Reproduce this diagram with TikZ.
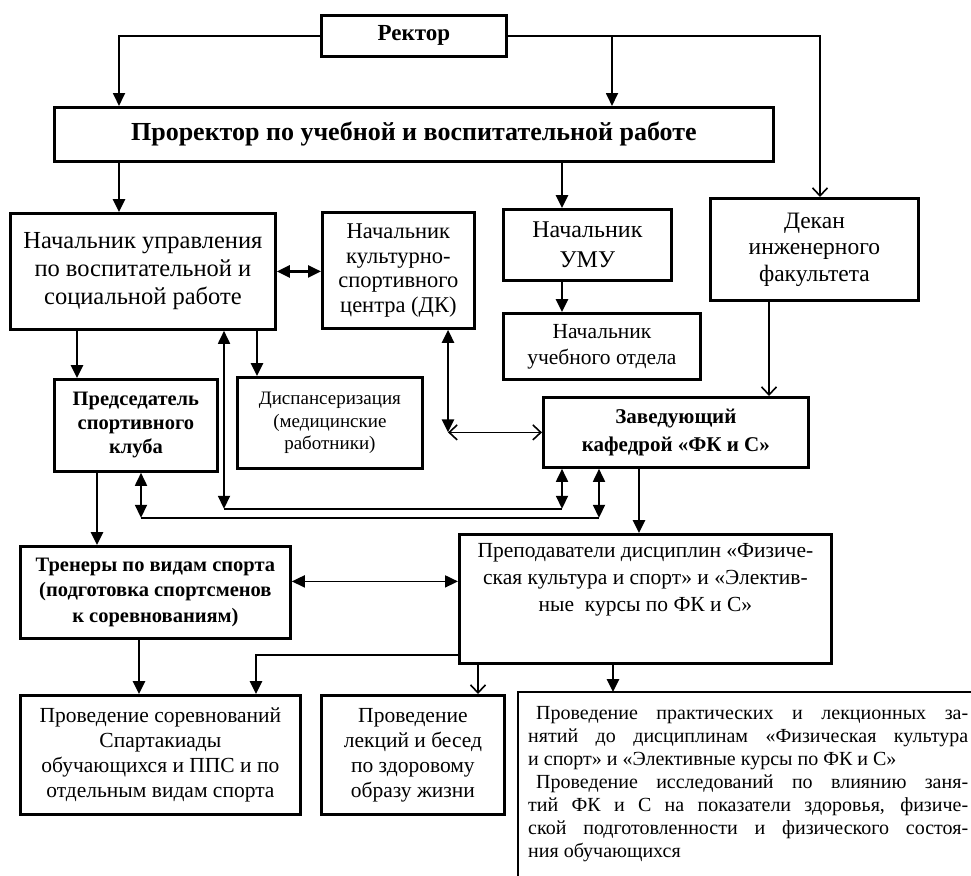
\documentclass[tikz,border=0pt]{standalone}
\usepackage{fontspec}
\setmainfont{Liberation Serif}
\usetikzlibrary{arrows.meta}
\newcommand\fsz[2]{\fontsize{#1}{#2}\selectfont}
\tikzset{
  box/.style={draw, line width=2.8pt, inner sep=0pt, anchor=north west, align=center},
  con/.style={line width=1.8pt},
  conT/.style={line width=2.6pt},
  fa/.style={-{Triangle[length=13pt,width=12pt]}},
  fab/.style={{Triangle[length=13pt,width=12pt]}-{Triangle[length=13pt,width=12pt]}},
  oa/.style={-{Straight Barb[length=8pt,width=15pt,line width=1.6pt]}},
  oab/.style={{Straight Barb[length=8pt,width=15pt,line width=1.6pt]}-{Straight Barb[length=8pt,width=15pt,line width=1.6pt]}},
}
\begin{document}
\begin{tikzpicture}[x=1pt,y=-1pt]
\useasboundingbox[fill=white] (0,0) rectangle (971,875);

% boxes
\node[box, minimum width=185pt, minimum height=41pt, font=\fsz{23}{26}\bfseries] (rector) at (320,14) {Ректор};
\node[box, minimum width=719pt, minimum height=54pt, font=\fsz{26}{30}\bfseries] (prorector) at (53,106) {Проректор по учебной и воспитательной работе};
\node[box, minimum width=265pt, minimum height=116pt, font=\fsz{24.5}{28}] (upr) at (9,212) {Начальник управления\\по воспитательной и\\социальной работе};
\node[box, minimum width=152pt, minimum height=116pt, font=\fsz{22.5}{24.5}] (dk) at (321,211) {Начальник\\культурно-\\спортивного\\центра (ДК)};
\node[box, minimum width=168pt, minimum height=71pt, font=\fsz{24}{30}] (umu) at (502,208) {Начальник\\УМУ};
\node[box, minimum width=197pt, minimum height=66pt, font=\fsz{21.5}{26}] (uchotd) at (502,312) {Начальник\\учебного отдела};
\node[box, minimum width=208pt, minimum height=102pt, font=\fsz{23.5}{26.5}] (dekan) at (709,197) {Декан\\инженерного\\факультета};
\node[box, minimum width=265pt, minimum height=70pt, font=\fsz{21}{28}\bfseries] (zav) at (542,396) {Заведующий\\кафедрой «ФК и С»};
\node[box, minimum width=163pt, minimum height=92pt, font=\fsz{20.5}{24}\bfseries] (pred) at (53,378) {Председатель\\спортивного\\клуба};
\node[box, minimum width=185pt, minimum height=91pt, font=\fsz{19}{22.5}] (disp) at (236,376) {Диспансеризация\\(медицинские\\работники)};
\node[box, minimum width=270pt, minimum height=92pt, font=\fsz{20.5}{25.5}\bfseries] (trener) at (19,545) {Тренеры по видам спорта\\(подготовка спортсменов\\к соревнованиям)};
\node[box, minimum width=372pt, minimum height=129pt] (prep) at (458,533) {};
\node[anchor=north, inner sep=0pt, align=center, font=\fsz{21.5}{27}] (prepT) at ([yshift=-10pt]prep.north) {Преподаватели дисциплин «Физиче-\\ская культура и спорт» и «Электив-\\ные\ \ курсы по ФК и С»};
\node[box, minimum width=280pt, minimum height=119pt, font=\fsz{21.5}{25}] (sorev) at (19,694) {Проведение соревнований\\Спартакиады\\обучающихся и ППС и по\\отдельным видам спорта};
\node[box, minimum width=183pt, minimum height=119pt, font=\fsz{21.5}{25}] (lekc) at (320,694) {Проведение\\лекций и бесед\\по здоровому\\образу жизни};
\node[inner sep=0pt, anchor=north west, minimum width=470pt, minimum height=200pt] (big) at (518,692) {};
\draw[line width=2.8pt] (big.south west) -- (big.north west) -- (big.north east);
\node[anchor=north west, inner sep=0pt, align=left, font=\fsz{20}{23}] (bigT) at (528,706) {%
\makebox[440pt][s]{\hspace{8pt}Проведение практических и лекционных за-}\\
\makebox[440pt][s]{нятий до дисциплинам «Физическая культура}\\
и спорт» и «Элективные курсы по ФК и С»\\
\makebox[440pt][s]{\hspace{8pt}Проведение исследований по влиянию заня-}\\
\makebox[440pt][s]{тий ФК и С на показатели здоровья, физиче-}\\
\makebox[440pt][s]{ской подготовленности и физического состоя-}\\
ния обучающихся};

% connectors
\coordinate (pA) at ([xshift=66pt]prorector.north west);
\draw[con,fa] (rector.west) -| (pA);
\draw[con,oa] (rector.east) -| ([xshift=111pt]dekan.north west);
\coordinate (pB) at ([xshift=559pt]prorector.north west);
\draw[con,fa] (pB |- rector.east) -- (pB);
\coordinate (pC) at ([xshift=66pt]prorector.south west);
\draw[conT,fa] (pC) -- (pC |- upr.north);
\coordinate (pD) at ([xshift=60pt]umu.north west);
\draw[conT,fa] (pD |- prorector.south) -- (pD);
\draw[conT,fab] (upr.east) -- (upr.east -| dk.west);
\coordinate (pE) at ([xshift=60pt]umu.south west);
\draw[conT,fa] (pE) -- (pE |- uchotd.north);
\coordinate (pF) at ([xshift=60pt]dekan.south west);
\draw[con,oa] (pF) -- (pF |- zav.north);
\coordinate (pG) at ([xshift=68pt]upr.south west);
\draw[conT,fa] (pG) -- (pG |- pred.north);
\coordinate (pH) at ([xshift=21pt]disp.north west);
\draw[conT,fa] (pH |- upr.south) -- (pH);
% upr <-> zav
\coordinate (k1) at ([xshift=215pt]upr.south west);
\coordinate (k2) at ([yshift=-178pt]k1);
\coordinate (k4) at ([xshift=20pt]zav.south west);
\draw[con,fab] (k1) -- (k2);
\draw[con] (k2) -- (k2 -| k4);
\draw[con,fab] (k2 -| k4) -- (k4);
% pred <-> zav
\coordinate (l1) at ([xshift=88pt]pred.south west);
\coordinate (l2) at ([yshift=-45pt]l1);
\coordinate (l4) at ([xshift=57pt]zav.south west);
\draw[con,fab] (l1) -- (l2);
\draw[con] (l2) -- (l2 -| l4);
\draw[con,fab] (l2 -| l4) -- (l4);
% dk <-> zav
\coordinate (m1) at ([xshift=127pt]dk.south west);
\draw[conT,fab] (m1) -- (m1 |- zav.west);
\draw[con,oab] (m1 |- zav.west) -- (zav.west);
% pred -> trener
\coordinate (n1) at ([xshift=44pt]pred.south west);
\draw[conT,fa] (n1) -- (n1 |- trener.north);
\coordinate (o1) at ([yshift=11pt]trener.east);
\draw[con,fab] (o1) -- (o1 -| prep.west);
\coordinate (p1) at ([xshift=97pt]zav.south west);
\draw[conT,fa] (p1) -- (p1 |- prep.north);
\coordinate (q1) at ([xshift=120pt]trener.south west);
\draw[conT,fa] (q1) -- (q1 |- sorev.north);
\coordinate (r1) at ([xshift=237pt]sorev.north west);
\draw[conT,fa] ([yshift=10pt]prep.south west) -| (r1);
\coordinate (s1) at ([xshift=20pt]prep.south west);
\draw[con,oa] (s1) -- (s1 |- lekc.north);
\coordinate (t1) at ([xshift=155pt]prep.south west);
\draw[conT,fa] (t1) -- (t1 |- big.north);
\end{tikzpicture}
\end{document}
